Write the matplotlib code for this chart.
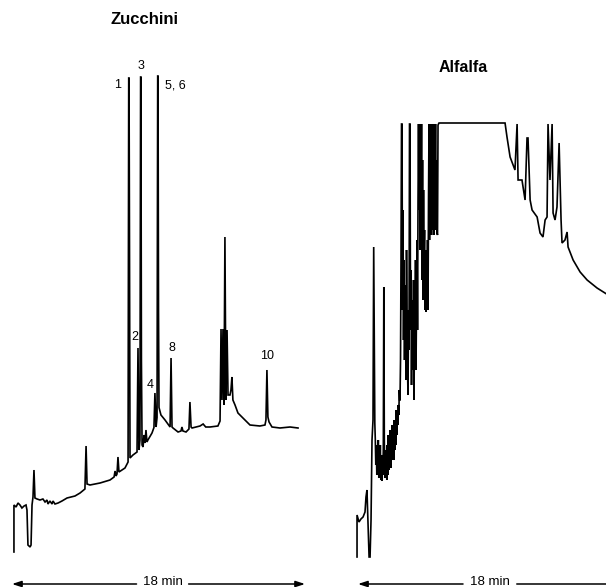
"""Capillary GC traces of zucchini and alfalfa extracts, same 18 min window."""

import matplotlib
matplotlib.use("Agg")
import matplotlib.pyplot as plt

INK = "#000000"
FONT = ["Liberation Sans", "DejaVu Sans"]

# Zucchini: retention time (min) vs detector response (arbitrary units)
ZUC_TIME = [
    0.12, 0.12, 0.25, 0.37, 0.49, 0.61, 0.74, 0.86, 0.92, 0.98, 1.11, 1.17,
    1.23, 1.29, 1.35, 1.41, 1.54, 1.72, 1.90, 2.03, 2.15, 2.21, 2.33, 2.46,
    2.52, 2.64, 2.83, 3.07, 3.38, 3.87, 4.18, 4.48, 4.55, 4.61, 4.79, 5.41,
    6.02, 6.27, 6.33, 6.39, 6.45, 6.51, 6.57, 6.94, 7.13, 7.17, 7.19, 7.22,
    7.25, 7.43, 7.68, 7.74, 7.80, 7.86, 7.90, 7.92, 7.95, 7.99, 8.05, 8.11,
    8.17, 8.23, 8.29, 8.35, 8.60, 8.72, 8.78, 8.85, 8.91, 8.95, 8.97, 9.00,
    9.03, 9.15, 9.40, 9.71, 9.77, 9.83, 9.89, 10.20, 10.38, 10.44, 10.50,
    10.69, 10.87, 10.93, 11.00, 11.06, 11.55, 11.74, 11.90, 12.16, 12.65,
    12.78, 12.84, 12.90, 12.96, 13.02, 13.08, 13.14, 13.21, 13.27, 13.39,
    13.45, 13.51, 13.57, 13.70, 13.88, 14.31, 14.62, 15.23, 15.54, 15.60,
    15.66, 15.72, 15.79, 15.97, 16.46, 17.08, 17.57,
]
ZUC_SIGNAL = [
    1.6, 11.0, 10.6, 11.4, 11.0, 10.4, 10.8, 11.0, 10.0, 3.0, 2.6, 3.0,
    11.0, 12.6, 18.0, 12.4, 12.2, 12.0, 12.2, 11.6, 12.0, 11.2, 11.8, 11.2,
    11.8, 11.2, 11.4, 11.8, 12.4, 12.8, 13.4, 14.2, 22.8, 15.2, 15.0, 15.4,
    16.0, 16.6, 17.8, 16.8, 17.2, 20.6, 17.6, 18.4, 19.6, 96.4, 96.4, 60.0,
    20.4, 21.0, 21.6, 42.4, 22.0, 24.0, 96.6, 96.6, 40.0, 23.0, 22.6, 25.0,
    23.4, 26.0, 23.6, 24.0, 25.4, 26.5, 33.4, 26.6, 28.5, 96.8, 96.8, 50.0,
    30.5, 29.0, 28.0, 26.6, 40.4, 26.6, 26.4, 25.6, 25.8, 26.6, 25.8,
    25.6, 26.2, 31.6, 26.6, 26.4, 26.8, 27.2, 26.6, 26.6, 26.8,
    27.8, 46.2, 32.0, 46.2, 31.0, 64.6, 32.0, 46.0, 33.0, 33.0,
    34.0, 36.6, 32.0, 31.0, 29.4, 28.0, 27.0, 26.8, 27.0, 28.0,
    38.0, 28.6, 27.6, 26.6, 26.4, 26.6, 26.4,
]

# Alfalfa: same axes; the flat top is detector saturation
ALF_TIME = [
    -0.06, -0.06, 0.06, 0.18, 0.31, 0.43, 0.49, 0.55, 0.61, 0.68, 0.74,
    0.80, 0.860, 0.921, 0.964, 1.001, 1.032, 1.063, 1.093, 1.124, 1.155,
    1.186, 1.216, 1.247, 1.278, 1.308, 1.339, 1.370, 1.401, 1.431, 1.462,
    1.493, 1.524, 1.554, 1.585, 1.616, 1.646, 1.677, 1.708, 1.739, 1.769,
    1.800, 1.831, 1.861, 1.892, 1.923, 1.953, 1.984, 2.015, 2.045, 2.076,
    2.107, 2.138, 2.168, 2.199, 2.230, 2.260, 2.291, 2.322, 2.353, 2.383,
    2.414, 2.445, 2.475, 2.506, 2.537, 2.561,
    2.580, 2.611, 2.641, 2.672, 2.703, 2.733, 2.764, 2.795, 2.826, 2.856,
    2.887, 2.918, 2.948, 2.979, 3.010, 3.041, 3.071, 3.102, 3.133, 3.163,
    3.194, 3.225, 3.256, 3.286, 3.317, 3.348, 3.378, 3.409, 3.440, 3.470,
    3.501, 3.532, 3.563, 3.593, 3.624, 3.655, 3.686, 3.716, 3.747, 3.778,
    3.808, 3.839, 3.870, 3.901, 3.931, 3.962, 3.993, 4.023, 4.054, 4.085,
    4.115, 4.146, 4.177, 4.208, 4.238, 4.269, 4.300, 4.330, 4.361, 4.392,
    4.423, 4.453, 4.484, 4.515, 4.545, 4.576, 4.607, 4.638, 4.668, 4.699,
    4.730, 4.761, 4.791, 4.822, 4.853, 4.883, 4.914, 4.975,
    5.10, 6.27, 7.49, 9.03, 9.15, 9.34, 9.64, 9.77, 9.83, 10.07, 10.26,
    10.38, 10.44, 10.57, 10.69, 11.00, 11.18, 11.36, 11.49, 11.61, 11.67,
    11.79, 11.92, 11.98, 12.10, 12.22, 12.35, 12.47, 12.53, 12.71, 12.84,
    12.90, 13.21, 13.64, 14.07, 14.68, 15.17, 15.36,
]
ALF_SIGNAL = [
    0.6, 9.0, 7.6, 8.2, 8.6, 9.6, 12.6, 14.0, 8.0, 0.6, 0.6,
    8.0, 24.0, 28.0, 62.6, 45.0, 27.4, 24.0, 19.0, 23.0, 17.0,
    22.0, 18.0, 24.0, 16.4, 21.0, 17.0, 23.0, 16.0, 20.0, 15.8,
    21.0, 17.0, 22.0, 54.6, 24.0, 16.4, 21.0, 17.4, 22.0, 16.0,
    23.0, 17.0, 25.0, 18.0, 24.0, 19.0, 26.0, 18.4, 24.0, 20.0,
    27.0, 21.0, 26.0, 20.0, 28.0, 22.0, 27.0, 23.0, 30.0, 25.0,
    29.0, 27.0, 31.0, 29.0, 34.0, 32.0,
    32.0, 40.0, 60.0, 87.2, 87.2, 50.0, 70.0, 44.0, 60.0, 40.0,
    55.0, 46.0, 36.0, 62.0, 48.0, 38.0, 33.0, 50.0, 42.0, 87.2,
    87.2, 46.0, 58.0, 35.0, 52.0, 44.0, 38.0, 56.0, 32.0, 48.0,
    43.0, 60.0, 38.0, 52.0, 64.0, 46.0, 72.0, 87.2, 70.0, 87.2,
    62.0, 87.2, 66.0, 87.2, 56.0, 80.0, 52.0, 74.0, 58.0, 66.0,
    50.0, 62.0, 49.6, 58.0, 52.0, 64.0, 50.0, 72.0, 87.2, 64.0,
    87.2, 70.0, 82.0, 65.0, 87.2, 66.0, 87.2, 76.0, 65.0, 87.2,
    70.0, 87.2, 66.0, 80.0, 65.4, 65.0, 87.0, 87.4,
    87.4, 87.4, 87.4, 87.4, 84.6, 80.6, 78.0, 87.2, 76.0, 76.0, 72.0,
    84.4, 84.4, 72.0, 70.0, 68.6, 65.4, 64.6, 68.0, 68.6, 87.2,
    76.0, 87.2, 69.4, 68.0, 70.6, 83.4, 68.0, 63.4, 64.0, 65.6,
    62.6, 60.0, 57.6, 56.0, 54.4, 53.4, 53.0,
]

ZUC_PEAK_NAMES = ["1", "2", "3", "4", "5, 6", "8", "10"]
ZUC_PEAK_TIME = [6.51, 7.56, 7.92, 8.48, 9.40, 9.83, 15.66]
ZUC_PEAK_SIGNAL = [95.0, 44.6, 98.8, 35.0, 94.8, 42.4, 40.8]

RUN_MINUTES = 18

plt.rcParams.update({
    "font.family": FONT,
    "figure.facecolor": "white",
    "axes.facecolor": "none",
})


def chromatogram(ax, time, signal, title, title_pos, title_size, arrow_gap):
    ax.plot(time, signal, color=INK, lw=1.2, solid_joinstyle="miter",
            clip_on=False)
    ax.text(*title_pos, title, ha="center", va="center", fontsize=title_size,
            fontweight="bold", color=INK)
    # time-span arrow below the trace
    y_arrow = -4.8
    lo, hi = arrow_gap
    ax.text((lo + hi) / 2, y_arrow + 0.4, f"{RUN_MINUTES} min", ha="center",
            va="center", fontsize=9.5, color=INK)
    head = dict(arrowstyle="-|>,head_length=0.55,head_width=0.18", color=INK,
                lw=1.1, shrinkA=0, shrinkB=0)
    ax.annotate("", xy=(0, y_arrow), xytext=(lo, y_arrow),
                arrowprops=head, annotation_clip=False)
    ax.annotate("", xy=(RUN_MINUTES, y_arrow), xytext=(hi, y_arrow),
                arrowprops=head, annotation_clip=False)
    ax.set_ylim(-5.4, 112)
    ax.axis("off")


fig = plt.figure(figsize=(6.06, 5.87), dpi=100)
px = 606.0
ax_z = fig.add_axes([0, 0, 320 / px, 1])
ax_z.set_xlim(-0.737, 18.92)
ax_a = fig.add_axes([330 / px, 0, 276 / px, 1])
ax_a.set_xlim(-1.72, 15.23)

chromatogram(ax_z, ZUC_TIME, ZUC_SIGNAL, "Zucchini", (8.11, 108.0), 12,
             (7.65, 10.85))
chromatogram(ax_a, ALF_TIME, ALF_SIGNAL, "Alfalfa", (6.45, 98.6), 11.5,
             (6.45, 9.75))

for name, t, s in zip(ZUC_PEAK_NAMES, ZUC_PEAK_TIME, ZUC_PEAK_SIGNAL):
    ha = "left" if name == "5, 6" else "center"
    ax_z.text(t, s, name, ha=ha, va="center", fontsize=9, color=INK)

fig.savefig("out.png", dpi=100)
